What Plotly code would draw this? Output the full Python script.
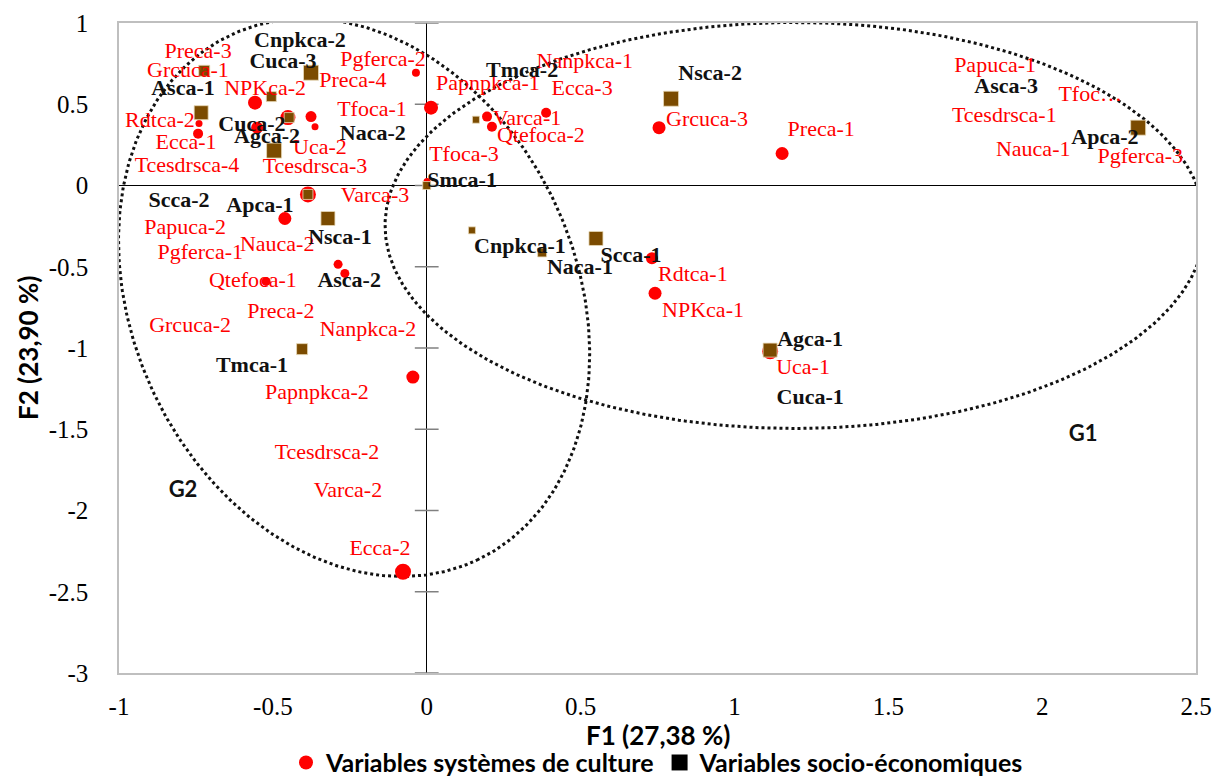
import numpy as np
import plotly.graph_objects as go

# ---------------- data ----------------
# Variables systèmes de culture (red circles)
red_x = [-0.558, -0.451, -0.376, -0.363, -0.551, -0.743, -0.740, -0.035, 0.014, -0.386,
         -0.461, -0.288, -0.266, -0.522, -0.045, 0.001, -0.077, 0.196, 0.212, 0.388,
         0.755, 1.155, 0.732, 0.742, 1.116, 2.312]
red_y = [0.510, 0.418, 0.424, 0.362, 0.356, 0.319, 0.381, 0.694, 0.479, -0.055,
         -0.203, -0.485, -0.541, -0.590, -1.179, 0.025, -2.377, 0.424, 0.362, 0.448,
         0.356, 0.197, -0.448, -0.663, -1.020, 0.356]

# Variables socio-économiques (brown squares)
sq_x = [-0.723, -0.376, -0.505, -0.733, -0.447, -0.496, -0.386, -0.321, -0.405, 0.000,
        0.160, 0.794, 0.147, 0.375, 0.550, 1.116, 2.312]
sq_y = [0.706, 0.694, 0.547, 0.448, 0.418, 0.215, -0.055, -0.203, -1.007, 0.000,
        0.405, 0.534, -0.276, -0.412, -0.326, -1.013, 0.356]

# red labels (cropping-system modalities) and where they sit in F1/F2 space
red_labels = ["Preca-3", "Grcuca-1", "NPKca-2", "Pgferca-2", "Preca-4", "Tfoca-1", "Rdtca-2",
              "Ecca-1", "Uca-2", "Tcesdrsca-4", "Tcesdrsca-3", "Varca-3", "Papuca-2", "Nauca-2",
              "Pgferca-1", "Qtefoca-1", "Preca-2", "Grcuca-2", "Nanpkca-2", "Papnpkca-2",
              "Tcesdrsca-2", "Varca-2", "Ecca-2", "Papnpkca-1", "Nanpkca-1", "Ecca-3", "Varca-1",
              "Qtefoca-2", "Tfoca-3", "Grcuca-3", "Preca-1", "Papuca-1", "Tfoc…", "Tcesdrsca-1",
              "Nauca-1", "Pgferca-3", "Rdtca-1", "NPKca-1", "Uca-1"]
red_lx = [-0.743, -0.776, -0.525, -0.142, -0.240, -0.178, -0.867, -0.782, -0.347, -0.779,
          -0.363, -0.168, -0.785, -0.486, -0.736, -0.565, -0.474, -0.769, -0.191, -0.357,
          -0.324, -0.256, -0.152, 0.199, 0.514, 0.505, 0.326, 0.371, 0.121, 0.911,
          1.282, 1.847, 2.156, 1.877, 1.971, 2.319, 0.865, 0.898, 1.223]
red_ly = [0.817, 0.700, 0.590, 0.768, 0.639, 0.461, 0.393, 0.258, 0.227, 0.117,
          0.111, -0.068, -0.264, -0.369, -0.418, -0.590, -0.780, -0.866, -0.891, -1.278,
          -1.652, -1.880, -2.242, 0.620, 0.756, 0.590, 0.405, 0.301, 0.184, 0.399,
          0.338, 0.731, 0.553, 0.424, 0.215, 0.172, -0.553, -0.774, -1.124]

# black labels (socio-economic modalities)
blk_labels = ["Cnpkca-2", "Cuca-3", "Asca-1", "Cuca-2", "Agca-2", "Naca-2", "Smca-1", "Scca-2",
              "Apca-1", "Nsca-1", "Asca-2", "Tmca-1", "Tmca-2", "Nsca-2", "Asca-3", "Apca-2",
              "Cnpkca-1", "Naca-1", "Scca-1", "Agca-1", "Cuca-1"]
blk_lx = [-0.412, -0.467, -0.792, -0.568, -0.519, -0.175, 0.115, -0.805, -0.542, -0.282,
          -0.252, -0.568, 0.310, 0.921, 1.883, 2.204, 0.303, 0.498, 0.664, 1.246, 1.246]
blk_ly = [0.885, 0.756, 0.590, 0.369, 0.295, 0.313, 0.025, -0.098, -0.129, -0.326,
          -0.590, -1.112, 0.700, 0.682, 0.602, 0.289, -0.381, -0.510, -0.436, -0.952, -1.308]

group_labels = ["G1", "G2"]
group_x = [2.133, -0.792]
group_y = [-1.536, -1.886]

x_ticks = [-1, -0.5, 0, 0.5, 1, 1.5, 2, 2.5]
x_ticktext = ["-1", "-0.5", "0", "0.5", "1", "1.5", "2", "2.5"]
y_ticks = [1, 0.5, 0, -0.5, -1, -1.5, -2, -2.5, -3]
y_ticktext = ["1", "0.5", "0", "-0.5", "-1", "-1.5", "-2", "-2.5", "-3"]

x_title = "F1 (27,38 %)"
y_title = "F2 (23,90 %)"
legend_names = ["Variables systèmes de culture", "Variables socio-économiques"]

# ---------------- style ----------------
W, H = 1213, 778
ML, MR, MT, MB = 119, 17, 23, 105
XR = [-1, 2.5]
YR = [-3, 1]
XS = (W - ML - MR) / (XR[1] - XR[0])   # px per x unit
YS = (H - MT - MB) / (YR[1] - YR[0])   # px per y unit

red_size = [14, 15, 11, 7, 12, 10, 7, 8, 14, 16, 13, 9, 9, 9, 13, 7, 16, 10, 10, 10,
            13, 13, 12, 13, 16, 13]
sq_size = [11, 15, 10, 14, 10, 15, 10, 14, 11, 8, 7, 15, 7, 9, 14, 14, 15]

RED = "#FF0000"
BROWN = "#7B4B00"
SERIF = "Liberation Serif"
SANS = "Lato"


def ellipse(cx, cy, a_px, b_px, ux, uy, n=400):
    """Ellipse defined in screen pixels (a along screen direction (ux, uy), y down)."""
    t = np.linspace(0, 2 * np.pi, n)
    vx, vy = uy, -ux
    px = a_px * np.cos(t) * ux + b_px * np.sin(t) * vx
    py = a_px * np.cos(t) * uy + b_px * np.sin(t) * vy
    return cx + px / XS, cy - py / YS


fig = go.Figure()

# group ellipses
g1x, g1y = ellipse(1.197, -0.246, 410, 203, 1.0, 0.0)
g2x, g2y = ellipse(-0.236, -0.689, 290, 222, 0.423, 0.906)
for ex, ey in [(g1x, g1y), (g2x, g2y)]:
    fig.add_trace(go.Scatter(x=ex, y=ey, mode="lines",
                             line=dict(color="#111111", width=3, dash="dot"),
                             hoverinfo="skip", showlegend=False))

# tick marks crossing the vertical axis at x=0
fig.add_trace(go.Scatter(x=[0] * len(y_ticks), y=y_ticks, mode="markers",
                         marker=dict(symbol="line-ew", size=17, opacity=1,
                                     line=dict(color="#808080", width=1.5)),
                         cliponaxis=False, hoverinfo="skip", showlegend=False))

fig.add_trace(go.Scatter(x=red_x, y=red_y, mode="markers",
                         marker=dict(color=RED, size=red_size, symbol="circle", opacity=1,
                                     line=dict(width=0)),
                         showlegend=False))
fig.add_trace(go.Scatter(x=sq_x, y=sq_y, mode="markers",
                         marker=dict(color=BROWN, size=sq_size, symbol="square", opacity=1,
                                     line=dict(color="#E8D9B8", width=0.8)),
                         showlegend=False))

fig.add_trace(go.Scatter(x=red_lx, y=red_ly, mode="text", text=red_labels,
                         textposition="middle center",
                         textfont=dict(family=SERIF, size=22, color=RED),
                         cliponaxis=False, hoverinfo="skip", showlegend=False))
fig.add_trace(go.Scatter(x=blk_lx, y=blk_ly, mode="text", text=blk_labels,
                         textposition="middle center",
                         textfont=dict(family=SERIF, size=22, color="#111111", weight="bold"),
                         cliponaxis=False, hoverinfo="skip", showlegend=False))
fig.add_trace(go.Scatter(x=group_x, y=group_y, mode="text", text=group_labels,
                         textposition="middle center",
                         textfont=dict(family=SANS, size=22, color="#111111", weight="bold"),
                         hoverinfo="skip", showlegend=False))

# legend entries
fig.add_trace(go.Scatter(x=[None], y=[None], mode="markers", name=legend_names[0],
                         marker=dict(color=RED, size=14, symbol="circle")))
fig.add_trace(go.Scatter(x=[None], y=[None], mode="markers", name=legend_names[1],
                         marker=dict(color="#000000", size=16, symbol="square")))

axis_common = dict(showgrid=False, showline=True, mirror=True, linecolor="#BFBFBF",
                   linewidth=1.5, ticks="", zeroline=True, zerolinecolor="#000000",
                   zerolinewidth=1, automargin=False,
                   tickfont=dict(family=SERIF, size=25, color="#000000"))

fig.update_layout(
    width=W, height=H,
    margin=dict(l=ML, r=MR, t=MT, b=MB, autoexpand=False),
    paper_bgcolor="white", plot_bgcolor="white",
    xaxis=dict(range=XR, tickvals=x_ticks, ticktext=x_ticktext, ticklabelstandoff=10,
               **axis_common),
    yaxis=dict(range=YR, tickvals=y_ticks, ticktext=y_ticktext, ticklabelstandoff=24,
               **axis_common),
    showlegend=True,
    legend=dict(orientation="h", x=0.5, xanchor="center", y=-0.138, yanchor="middle",
                font=dict(family=SANS, size=25, color="#000000", weight="bold"),
                bgcolor="rgba(0,0,0,0)", itemsizing="trace"),
    annotations=[
        dict(text=x_title, xref="paper", yref="paper", x=0.5, y=-0.095,
             xanchor="center", yanchor="middle", showarrow=False,
             font=dict(family=SANS, size=26, color="#000000", weight="bold")),
        dict(text=y_title, xref="paper", yref="paper", x=-0.0845, y=0.5,
             xanchor="center", yanchor="middle", showarrow=False, textangle=-90,
             font=dict(family=SANS, size=26, color="#000000", weight="bold")),
    ],
)

fig.write_html("out.html")
